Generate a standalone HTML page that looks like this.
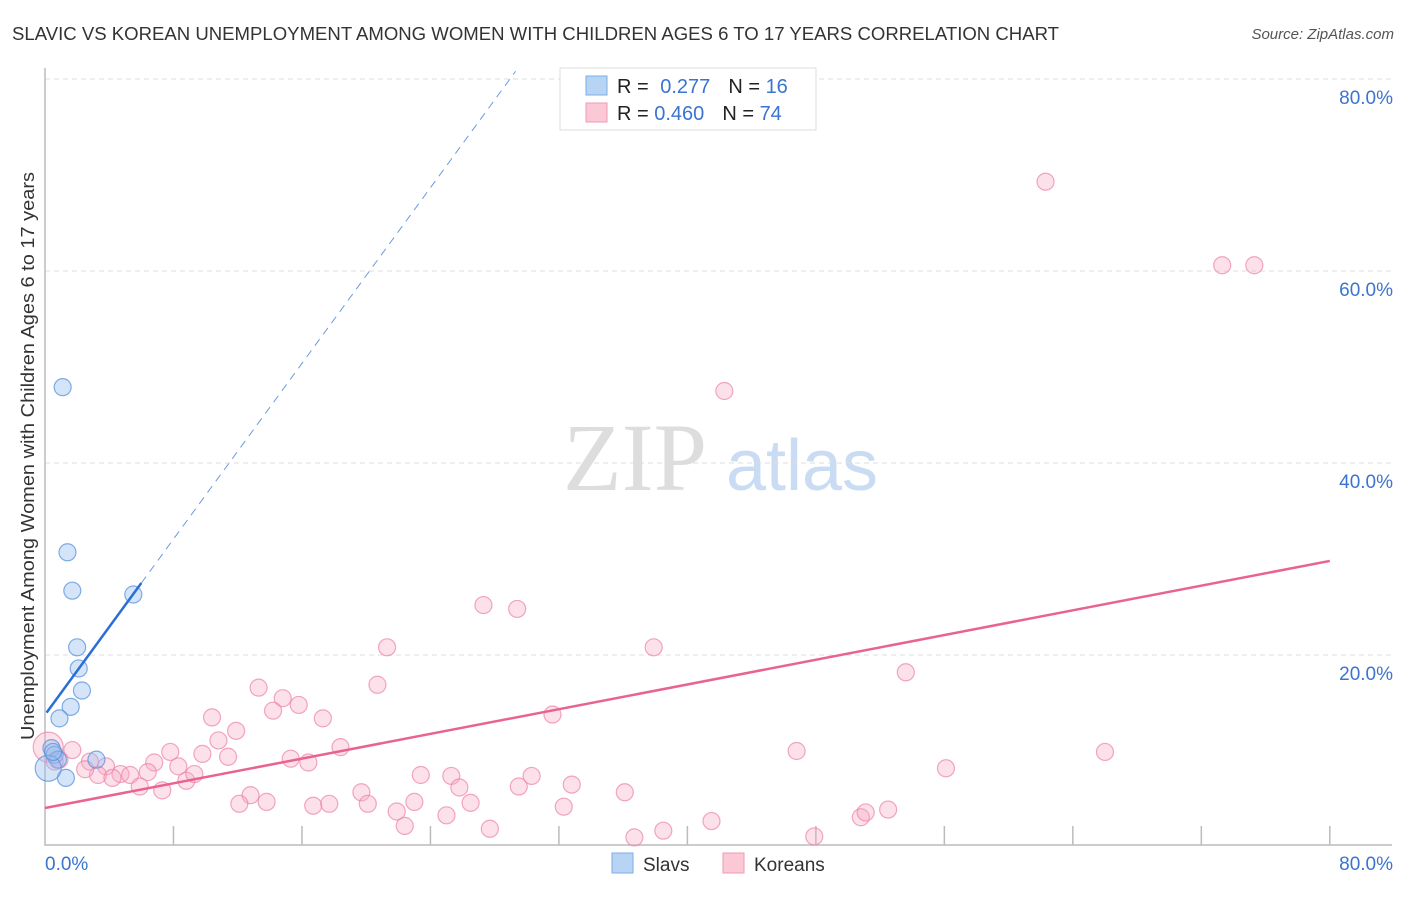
<!DOCTYPE html>
<html><head><meta charset="utf-8"><style>
body{margin:0;background:#fff;font-family:"Liberation Sans",sans-serif}
</style></head><body>
<svg id="chart" width="1406" height="892" xmlns="http://www.w3.org/2000/svg" font-family="Liberation Sans, sans-serif">
<text x="12" y="40" font-size="18" fill="#333" textLength="1047" lengthAdjust="spacingAndGlyphs">SLAVIC VS KOREAN UNEMPLOYMENT AMONG WOMEN WITH CHILDREN AGES 6 TO 17 YEARS CORRELATION CHART</text>
<text x="1394" y="39" font-size="15" fill="#555" font-style="italic" text-anchor="end">Source: ZipAtlas.com</text>
<g>
<text x="635" y="490" font-size="96" font-family="Liberation Serif, serif" fill="#ddd" text-anchor="middle">ZIP</text>
<text x="802" y="490" font-size="72" fill="#c9dcf3" text-anchor="middle">atlas</text>
</g>
<g id="grid"></g>
<g id="axes"></g>
<g id="marks"></g>
<text transform="translate(34,456) rotate(-90)" font-size="18" fill="#333" text-anchor="middle" textLength="568" lengthAdjust="spacingAndGlyphs">Unemployment Among Women with Children Ages 6 to 17 years</text>
<g>
<rect x="560" y="68" width="256" height="62" fill="#fff" stroke="#ddd"/>
<rect x="586" y="76" width="21" height="19" fill="#b8d4f5" stroke="#7aaee8"/>
<rect x="586" y="103" width="21" height="19" fill="#fbc8d6" stroke="#ef9ab4"/>
<text x="617" y="93" font-size="20" fill="#222">R = <tspan fill="#3a74d0" dx="6">0.277</tspan><tspan dx="18" fill="#222">N = </tspan><tspan fill="#3a74d0">16</tspan></text>
<text x="617" y="120" font-size="20" fill="#222">R = <tspan fill="#3a74d0">0.460</tspan><tspan dx="18" fill="#222">N = </tspan><tspan fill="#3a74d0">74</tspan></text>
</g>
<g>
<rect x="612" y="853" width="21" height="20" fill="#b8d4f5" stroke="#7aaee8"/>
<text x="643" y="871" font-size="19" fill="#333">Slavs</text>
<rect x="723" y="853" width="21" height="20" fill="#fbc8d6" stroke="#ef9ab4"/>
<text x="754" y="871" font-size="19" fill="#333">Koreans</text>
</g>
</svg>
<script>
const yTicks=[20,40,60,80];
const yTickLabels=["20.0%","40.0%","60.0%","80.0%"];
const xTicks=[0,8,16,24,32,40,48,56,64,72,80];
const slavX=[1.1,1.4,1.7,5.5,2.0,2.1,2.3,1.6,0.9,0.4,0.6,0.8,3.2,1.3,0.2,0.5];
const slavY=[47.9,30.7,26.7,26.3,20.8,18.6,16.3,14.6,13.4,10.3,9.6,9.1,9.1,7.2,8.2,9.9];
const korX=[62.3,73.3,75.3,42.3,27.3,29.4,21.3,37.9,53.6,13.3,20.7,14.8,15.8,14.2,10.4,17.3,31.6,11.9,10.8,18.4,46.8,66.0,9.8,11.4,15.3,16.4,7.8,8.3,6.8,1.7,0.2,0.9,2.8,3.8,4.7,5.3,6.4,8.8,9.3,3.3,4.2,5.9,7.3,23.4,25.3,30.3,56.1,19.7,25.8,29.5,32.8,12.8,12.1,13.8,16.7,17.7,20.1,21.9,23.0,26.5,32.3,36.1,25.0,22.4,27.7,41.5,38.5,36.7,47.9,50.8,51.1,52.5,0.6,2.5];
const korY=[69.3,60.6,60.6,47.5,25.2,24.8,20.8,20.8,18.2,16.6,16.9,15.5,14.8,14.2,13.5,13.4,13.8,12.1,11.1,10.4,10.0,9.9,9.7,9.4,9.2,8.8,9.9,8.4,8.8,10.1,10.4,9.1,8.9,8.4,7.6,7.5,7.8,6.9,7.6,7.5,7.2,6.3,5.9,7.5,7.4,7.4,8.2,5.7,6.2,6.3,6.5,5.4,4.5,4.7,4.3,4.5,4.5,3.7,4.7,4.6,4.2,5.7,3.3,2.2,1.9,2.7,1.7,1.0,1.1,3.1,3.6,3.9,8.9,8.1];
const slavBig=[0,0,0,0,0,0,0,0,0,0,0,0,0,0,1,0];
const korBig=[0,0,0,0,0,0,0,0,0,0,0,0,0,0,0,0,0,0,0,0,0,0,0,0,0,0,0,0,0,0,1,0,0,0,0,0,0,0,0,0,0,0,0,0,0,0,0,0,0,0,0,0,0,0,0,0,0,0,0,0,0,0,0,0,0,0,0,0,0,0,0,0,0,0];
const slavLine=[0.1,14.0,6.0,27.5,29.3,80.8];
const korLine=[0,4.06,80,29.8];
const X=v=>45+v*16.06, Y=v=>847-v*9.6;
const NS="http://www.w3.org/2000/svg";
function mk(t,a,p){const e=document.createElementNS(NS,t);for(const k in a)e.setAttribute(k,a[k]);p.appendChild(e);return e;}
const grid=document.getElementById('grid'),axes=document.getElementById('axes'),marks=document.getElementById('marks');
yTicks.forEach((t,i)=>{
 const l=mk('line',{x1:45,x2:1392,y1:Y(t),y2:Y(t),stroke:'#ddd','stroke-dasharray':'5,4'},grid);
 
 
 const tx=mk('text',{x:1393,y:Y(t)+25,'font-size':19,fill:'#3a74d0','text-anchor':'end'},axes);
 tx.textContent=yTickLabels[i];
 
 
});
const ax=mk('path',{d:'M45,68 V845 H1392',stroke:'#bbb',fill:'none','stroke-width':1.5},axes);


xTicks.forEach(t=>{if(t===0)return;const l=mk('line',{x1:X(t),x2:X(t),y1:826,y2:845,stroke:'#bbb','stroke-width':1.5},axes);
 
 });
let a=mk('text',{x:45,y:870,'font-size':19,fill:'#3a74d0'},axes);a.textContent='0.0%';


a=mk('text',{x:1393,y:870,'font-size':19,fill:'#3a74d0','text-anchor':'end'},axes);a.textContent='80.0%';


korX.forEach((v,i)=>{const c=mk('circle',{cx:X(v),cy:Y(korY[i]),r:korBig[i]?15:8.5,fill:'rgba(246,170,195,0.35)',stroke:'rgba(236,130,165,0.7)','stroke-width':1.2},marks);
 
 });
slavX.forEach((v,i)=>{const c=mk('circle',{cx:X(v),cy:Y(slavY[i]),r:slavBig[i]?13:8.5,fill:'rgba(150,190,240,0.4)',stroke:'rgba(90,145,220,0.75)','stroke-width':1.2},marks);
 
 });
let t=mk('line',{x1:X(slavLine[0]),y1:Y(slavLine[1]),x2:X(slavLine[2]),y2:Y(slavLine[3]),stroke:'#2a6fd6','stroke-width':2.5},marks);


t=mk('line',{x1:X(slavLine[2]),y1:Y(slavLine[3]),x2:X(slavLine[4]),y2:Y(slavLine[5]),stroke:'#6a9be0','stroke-width':1,'stroke-dasharray':'8,6'},marks);


t=mk('line',{x1:X(korLine[0]),y1:Y(korLine[1]),x2:X(korLine[2]),y2:Y(korLine[3]),stroke:'#e8648e','stroke-width':2.5},marks);


</script>
</body></html>
